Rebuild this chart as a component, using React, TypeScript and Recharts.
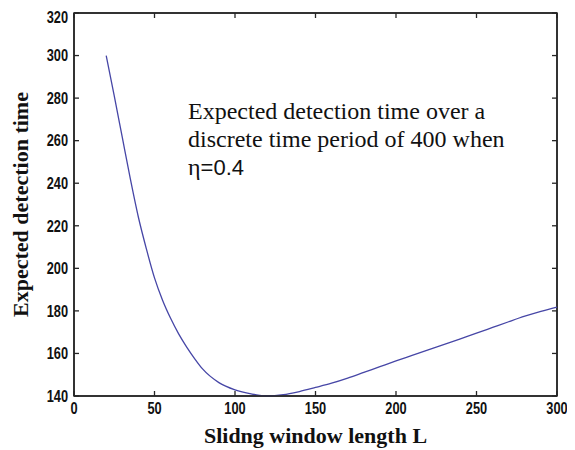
import React from "react";
import { LineChart, Line, XAxis, YAxis, ReferenceLine, ReferenceArea } from "recharts";

// Sliding window length L vs expected detection time
const windowLength = [
  20, 25, 30, 35, 40, 45, 50, 55, 60, 65, 70, 75, 80, 90, 100, 110, 120, 130,
  140, 150, 160, 170, 180, 190, 200, 210, 220, 230, 240, 250, 260, 270, 280,
  290, 300,
];
const detectionTime = [
  300, 281, 261.5, 242, 224, 209, 195.5, 185, 176.5, 169.2, 163, 157.5, 152.6,
  146.3, 142.9, 141, 140, 140.6, 142.1, 144, 146, 148.4, 151.1, 153.8, 156.5,
  159.1, 161.7, 164.3, 166.9, 169.5, 172.2, 174.9, 177.5, 179.8, 181.8,
];
const xTicks = [0, 50, 100, 150, 200, 250, 300];
const yTicks = [140, 160, 180, 200, 220, 240, 260, 280, 300, 320];

const noteLines = ["Expected detection time over a", "discrete time period of 400 when"];

const data = windowLength.map((L, i) => ({ L, t: detectionTime[i] }));

const FRAME = "#262626";
const LINE = "#4646a6";
const TICK_FONT = "Liberation Sans, Arial, sans-serif";
const SERIF = "Liberation Serif, Times New Roman, serif";
const TICK_LEN = 5;

function BottomTick(props: any) {
  const { x, y, payload } = props;
  return (
    <text
      transform={`translate(${x},${y}) scale(0.8,1)`}
      dy="0.72em"
      textAnchor="middle"
      fontFamily={TICK_FONT}
      fontWeight="bold"
      fontSize={16}
      fill="#111"
    >
      {payload.value}
    </text>
  );
}

function LeftTick(props: any) {
  const { x, y, payload } = props;
  return (
    <text
      transform={`translate(${x},${y}) scale(0.8,1)`}
      dy="0.36em"
      textAnchor="end"
      fontFamily={TICK_FONT}
      fontWeight="bold"
      fontSize={16}
      fill="#111"
    >
      {payload.value}
    </text>
  );
}

// inward tick marks (MATLAB style) at both ends of a reference line
function VerticalMarks(p: any) {
  const y1 = Number(p.y1);
  const y2 = Number(p.y2);
  const x = Number(p.x1);
  const top = Math.min(y1, y2);
  const bottom = Math.max(y1, y2);
  return (
    <g>
      <line x1={x} y1={top} x2={x} y2={top + TICK_LEN} stroke={FRAME} strokeWidth={1.3} />
      <line x1={x} y1={bottom} x2={x} y2={bottom - TICK_LEN} stroke={FRAME} strokeWidth={1.3} />
    </g>
  );
}

function HorizontalMarks(p: any) {
  const x1 = Number(p.x1);
  const x2 = Number(p.x2);
  const y = Number(p.y1);
  const left = Math.min(x1, x2);
  const right = Math.max(x1, x2);
  return (
    <g>
      <line x1={left} y1={y} x2={left + TICK_LEN} y2={y} stroke={FRAME} strokeWidth={1.3} />
      <line x1={right} y1={y} x2={right - TICK_LEN} y2={y} stroke={FRAME} strokeWidth={1.3} />
    </g>
  );
}

export default function App() {
  return (
    <div style={{ position: "relative", width: 567, height: 442, background: "#fff" }}>
      <LineChart
        width={567}
        height={442}
        data={data}
        margin={{ top: 5, right: 18, bottom: 0, left: 0 }}
      >
        <XAxis
          type="number"
          dataKey="L"
          domain={[0, 300]}
          ticks={xTicks}
          height={54}
          tickSize={0}
          tickMargin={6}
          tickLine={false}
          tick={(p: any) => <BottomTick {...p} />}
          axisLine={{ stroke: FRAME, strokeWidth: 1.5 }}
          label={{
            value: "Slidng window length L",
            position: "insideBottom",
            offset: 7,
            style: { fontFamily: SERIF, fontWeight: "bold", fontSize: 22, fill: "#111" },
          }}
        />
        <YAxis
          type="number"
          domain={[140, 320]}
          ticks={yTicks}
          width={66}
          tickSize={0}
          tickMargin={6}
          tickLine={false}
          tick={(p: any) => <LeftTick {...p} />}
          axisLine={{ stroke: FRAME, strokeWidth: 1.5 }}
          label={{
            value: "Expected detection time",
            angle: -90,
            position: "insideLeft",
            offset: 12,
            style: {
              fontFamily: SERIF,
              fontWeight: "bold",
              fontSize: 22,
              fill: "#111",
              textAnchor: "middle",
            },
          }}
        />
        {/* box frame */}
        <ReferenceArea
          x1={0}
          x2={300}
          y1={140}
          y2={320}
          fill="none"
          fillOpacity={0}
          stroke={FRAME}
          strokeWidth={1.5}
          strokeOpacity={1}
          ifOverflow="visible"
        />
        <ReferenceLine y={320} stroke={FRAME} strokeWidth={1.5} ifOverflow="visible" />
        <ReferenceLine x={300} stroke={FRAME} strokeWidth={1.5} ifOverflow="visible" />
        {xTicks.map((v) => (
          <ReferenceLine
            key={`x${v}`}
            x={v}
            ifOverflow="visible"
            shape={(p: any) => <VerticalMarks {...p} />}
          />
        ))}
        {yTicks.map((v) => (
          <ReferenceLine
            key={`y${v}`}
            y={v}
            ifOverflow="visible"
            shape={(p: any) => <HorizontalMarks {...p} />}
          />
        ))}
        <Line
          type="monotone"
          dataKey="t"
          stroke={LINE}
          strokeWidth={1.3}
          dot={false}
          isAnimationActive={false}
        />
      </LineChart>
      <svg
        width={567}
        height={442}
        style={{ position: "absolute", left: 0, top: 0, pointerEvents: "none" }}
      >
        {noteLines.map((s, i) => (
          <text key={s} x={180} y={111 + i * 28} fontFamily={SERIF} fontSize={24} fill="#111">
            {s}
          </text>
        ))}
        <text x={180} y={167} fontSize={24} fill="#111">
          <tspan fontFamily={SERIF}>η</tspan>
          <tspan fontFamily={TICK_FONT} fontSize={22}>=0.4</tspan>
        </text>
      </svg>
    </div>
  );
}
